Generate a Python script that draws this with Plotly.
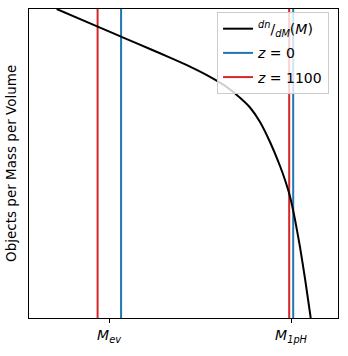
import plotly.graph_objects as go

# Mass function curve (arbitrary units, x: log-mass position, y: relative density)
curve_x = [8.96, 22.98, 31.07, 39.16, 45.63, 52.10, 58.58, 63.43, 68.28, 71.52, 74.76, 77.99,
           81.23, 82.85, 84.47, 86.08, 87.70, 89.32, 91.17]
curve_y = [100.0, 93.98, 90.49, 87.06, 84.27, 81.36, 78.06, 75.15, 71.26, 68.12, 63.43, 56.96,
           49.19, 44.66, 39.32, 31.88, 22.98, 12.78, 0.0]

# Vertical marker positions
z0_x = [29.8, 85.5]
z1100_x = [22.2, 84.2]

# Tick positions and labels
tick_vals = [25.9, 84.8]
tick_text = ["<i>M</i><sub><i>ev</i></sub>", "<i>M</i><sub><i>1pH</i></sub>"]

y_range = [0, 100]
x_range = [0, 100]

def vlines(xs):
    vx, vy = [], []
    for v in xs:
        vx += [v, v, None]
        vy += [y_range[0], y_range[1], None]
    return vx, vy

fig = go.Figure()
rx, ry = vlines(z1100_x)
bx, by = vlines(z0_x)
fig.add_trace(go.Scatter(x=bx, y=by, mode="lines", line=dict(color="#1f77b4", width=2),
                         name="<i>z</i> = 0", legendrank=2, legendgroup="b"))
fig.add_trace(go.Scatter(x=rx, y=ry, mode="lines", line=dict(color="#d62728", width=2),
                         name="<i>z</i> = 1100", legendrank=3, legendgroup="c"))
fig.add_trace(go.Scatter(x=curve_x, y=curve_y, mode="lines",
                         line=dict(color="black", width=2, shape="spline", smoothing=0.5),
                         name="<sup><i>dn</i></sup>/<sub><i>dM</i></sub>(<i>M</i>)", legendrank=1,
                         legendgroup="a"))

fig.update_layout(
    width=348, height=356,
    margin=dict(l=29, r=10, t=9, b=38, autoexpand=False),
    plot_bgcolor="white", paper_bgcolor="white",
    font=dict(family="DejaVu Sans", size=13, color="black"),
    showlegend=True,
    legend=dict(x=0.971, y=0.99, xanchor="right", yanchor="top",
                bgcolor="rgba(255,255,255,0.8)", bordercolor="#cccccc", borderwidth=1,
                font=dict(size=14), itemwidth=30, tracegroupgap=3),
    xaxis=dict(range=x_range, showgrid=False, zeroline=False, showline=True, linecolor="black", linewidth=1,
               mirror=True, ticks="outside", ticklen=4, tickcolor="black", tickvals=tick_vals, ticktext=tick_text,
               tickfont=dict(size=14), automargin=False),
    yaxis=dict(range=y_range, showgrid=False, zeroline=False, showline=True, linecolor="black", linewidth=1,
               mirror=True, showticklabels=False, ticks="", automargin=False),
    annotations=[dict(text="Objects per Mass per Volume", xref="paper", yref="paper", x=-0.06, y=0.5,
                      xanchor="center", yanchor="middle", textangle=-90, showarrow=False,
                      font=dict(size=13.5))],
)

fig.write_html("out.html", config={"displayModeBar": False},
               post_script="document.body.style.margin='0';document.body.style.overflow='hidden';")
